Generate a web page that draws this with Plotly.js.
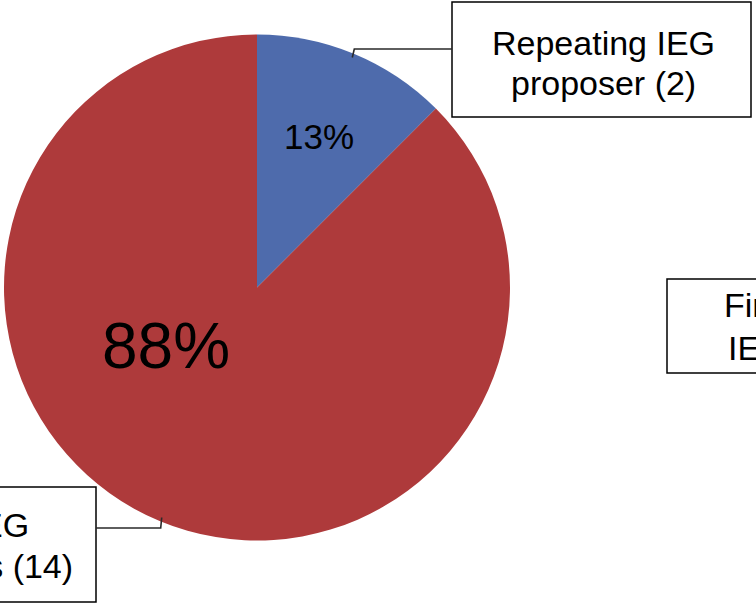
<!DOCTYPE html>
<html>
<head>
<meta charset="utf-8">
<script src="https://cdn.plot.ly/plotly-3.0.1.min.js"></script>
<style>
  html, body { margin: 0; padding: 0; background: #ffffff; }
  #chart { width: 756px; height: 603px; }
</style>
</head>
<body>
<div id="chart"></div>
<script>
// ---- data ----
const categories = ['Repeating IEG proposer', 'First IEG proposers'];
const counts = [2, 14];
const labelFirstLines = ['Repeating IEG', 'First IEG'];
const labelSecondLines = ['proposer', 'proposers'];
const sliceColors = ['#4E6BAC', '#AE3A3B'];
const strayLabelLines = ['First', 'IEG'];

// ---- geometry helpers (pixels -> paper) ----
const W = 756, H = 603;
const px = x => x / W;
const py = y => 1 - y / H;
const FONT = 'Liberation Sans, Arial, sans-serif';

const cx = 257, cy = 287.5, R = 253;

const total = counts.reduce((a, b) => a + b, 0);
const pctText = counts.map(v => Math.round(v / total * 100) + '%');

// mid angles (clockwise from 12 o'clock)
const midAngles = [];
let acc = 0;
counts.forEach(v => {
  const span = v / total * 360;
  midAngles.push(acc + span / 2);
  acc += span;
});
function edgePoint(angleDeg, r) {
  const a = angleDeg * Math.PI / 180;
  return [cx + r * Math.sin(a), cy - r * Math.cos(a)];
}

const trace = {
  type: 'pie',
  labels: categories,
  values: counts,
  sort: false,
  direction: 'clockwise',
  rotation: 0,
  textinfo: 'none',
  hoverinfo: 'none',
  marker: { colors: sliceColors, line: { width: 0 } },
  domain: { x: [px(cx - R), px(cx + R)], y: [py(cy + R), py(cy - R)] }
};

// label boxes [x0, x1, y0, y1], text centre x, line centres y, leader y
const boxes = [
  { rect: [452, 751, 2, 117], tx: 603, ty: [43, 83], leaderY: 49, side: 'right', i: 0 },
  { rect: [-220, 96, 487, 602], tx: -38, ty: [525, 566], leaderY: 528, side: 'left', i: 1 }
];

const shapes = [];
const annotations = [];

boxes.forEach(b => {
  const [x0, x1, y0, y1] = b.rect;
  shapes.push({
    type: 'rect', xref: 'paper', yref: 'paper',
    x0: px(x0), x1: px(x1), y0: py(y1), y1: py(y0),
    line: { color: '#000000', width: 1.5 }, fillcolor: '#ffffff', layer: 'above'
  });
  const lines = [labelFirstLines[b.i], labelSecondLines[b.i] + ' (' + counts[b.i] + ')'];
  lines.forEach((t, k) => {
    annotations.push({
      xref: 'paper', yref: 'paper', x: px(b.tx), y: py(b.ty[k]),
      xanchor: 'center', yanchor: 'middle', showarrow: false,
      text: t, font: { family: FONT, size: 34, color: '#000000' }
    });
  });
  // leader line
  const [ex, ey] = edgePoint(midAngles[b.i], R - 4);
  const boxEdgeX = b.side === 'right' ? x0 : x1;
  const elbowX = b.side === 'right' ? ex + 2 : ex - 1;
  shapes.push({
    type: 'path', xref: 'paper', yref: 'paper',
    path: 'M ' + px(ex) + ',' + py(ey) + ' L ' + px(elbowX) + ',' + py(b.leaderY) +
          ' L ' + px(boxEdgeX) + ',' + py(b.leaderY),
    line: { color: '#2a2a2a', width: 1.6 }
  });
});

// stray, partially visible label box at the right edge
shapes.push({
  type: 'rect', xref: 'paper', yref: 'paper',
  x0: px(667), x1: px(900), y0: py(373), y1: py(279),
  line: { color: '#000000', width: 1.5 }, fillcolor: '#ffffff', layer: 'above'
});
[305, 348].forEach((y, k) => {
  annotations.push({
    xref: 'paper', yref: 'paper', x: px(757), y: py(y),
    xanchor: 'center', yanchor: 'middle', showarrow: false,
    text: strayLabelLines[k], font: { family: FONT, size: 34, color: '#000000' }
  });
});

// percentage labels
annotations.push({
  xref: 'paper', yref: 'paper', x: px(319), y: py(137),
  xanchor: 'center', yanchor: 'middle', showarrow: false,
  text: pctText[0], font: { family: FONT, size: 35, color: '#000000' }
});
annotations.push({
  xref: 'paper', yref: 'paper', x: px(166), y: py(346),
  xanchor: 'center', yanchor: 'middle', showarrow: false,
  text: pctText[1], font: { family: FONT, size: 64, color: '#000000' }
});

const layout = {
  width: W, height: H,
  margin: { l: 0, r: 0, t: 0, b: 0 },
  paper_bgcolor: '#ffffff',
  plot_bgcolor: '#ffffff',
  showlegend: false,
  shapes: shapes,
  annotations: annotations
};

Plotly.newPlot('chart', [trace], layout, { displayModeBar: false, staticPlot: true });
</script>
</body>
</html>
